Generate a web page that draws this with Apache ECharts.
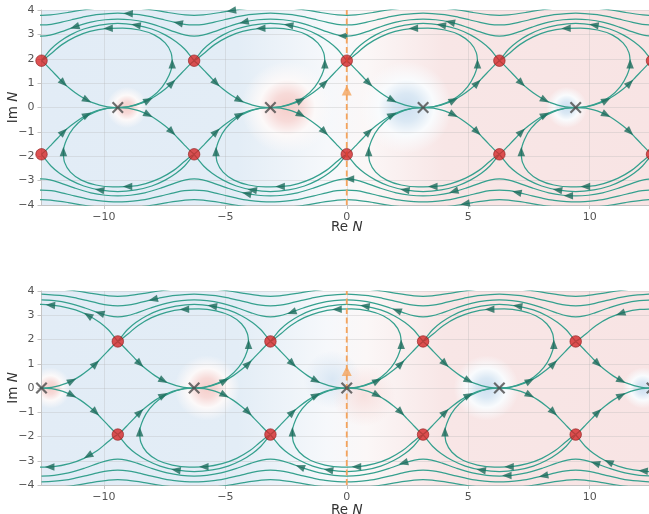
<!DOCTYPE html>
<html><head><meta charset="utf-8">
<script src="https://cdn.jsdelivr.net/npm/echarts@6/dist/echarts.min.js"></script>
<style>html,body{margin:0;padding:0;background:#fff;overflow:hidden}#c{width:649px;height:514px}</style>
</head><body><div id="c"></div>
<script>
// ---------------- values ----------------
const xTicks = [-10, -5, 0, 5, 10];
const xMin = -12.566, xMax = 12.566;
const yMin = -4, yMax = 4;

// singular points (crosses) and saddle points (red dots)
const topPoles = [-9.425, -3.142, 3.142, 9.425];
const topSaddles = [[-12.566,1.92],[-6.283,1.92],[0,1.92],[6.283,1.92],[12.566,1.92],
                    [-12.566,-1.92],[-6.283,-1.92],[0,-1.92],[6.283,-1.92],[12.566,-1.92]];
const botPoles = [-12.566, -6.283, 0, 6.283, 12.566];
const botSaddles = [[-9.425,1.92],[-3.142,1.92],[3.142,1.92],[9.425,1.92],
                    [-9.425,-1.92],[-3.142,-1.92],[3.142,-1.92],[9.425,-1.92]];
const startPoint = [[0, 0.7]];
const dashedLine = [[0, -4], [0, 4]];

// flow-line shapes, measured relative to a cross (u = Re N - pole, Im N)
const sepHalf = [[0,0],[0.42,0.03],[0.74,0.1],[1.04,0.2],[1.26,0.3],[1.6,0.5],[1.94,0.75],[2.23,1.0],[2.47,1.25],[2.71,1.5],[2.95,1.75],[3.142,1.92]];
const loopUpper = [[0,0],[0.48,0.05],[0.97,0.2],[1.42,0.45],[1.83,0.85],[2.1,1.3],[2.24,1.8],[2.19,2.25],[1.95,2.65],[1.5,2.98],[0.9,3.18],[0.2,3.26],[-0.5,3.24],[-1.15,3.12],[-1.75,2.9],[-2.3,2.58],[-2.7,2.25],[-2.98,2.02],[-3.12,1.94]];
const sepHigh = [[-3.142,1.92],[-3.0,2.1],[-2.75,2.4],[-2.4,2.7],[-1.95,2.98],[-1.4,3.22],[-0.75,3.38],[0,3.45],[0.75,3.38],[1.4,3.22],[1.95,2.98],[2.4,2.7],[2.75,2.4],[3.0,2.1],[3.142,1.92]];
// wavy flow lines near the top/bottom, one period measured around a saddle column
const wave1 = [[-3.142,3.63],[-2.62,3.6],[-2.03,3.5],[-1.35,3.3],[-0.79,3.1],[-0.35,2.97],[0,2.93],[0.35,2.97],[0.79,3.1],[1.35,3.3],[2.03,3.5],[2.62,3.6],[3.142,3.63]];
const wave2 = [[-3.142,3.875],[-2.2,3.8],[-1.67,3.7],[-1.24,3.6],[-0.83,3.5],[-0.4,3.415],[0,3.39],[0.4,3.415],[0.83,3.5],[1.24,3.6],[1.67,3.7],[2.2,3.8],[3.142,3.875]];
const wave3 = [[-3.142,4.14],[-2.3,4.08],[-1.69,4.0],[-1.1,3.9],[-0.37,3.8],[0,3.78],[0.37,3.8],[1.1,3.9],[1.69,4.0],[2.3,4.08],[3.142,4.14]];
const topWaveColumns = [-12.566, -6.283, 0, 6.283, 12.566];
const botWaveColumns = [-9.425, -3.142, 3.142, 9.425];

// which flow lines are drawn around each cross
const fullParts = ['sepUp','sepDown','loopUp','loopDown','highUp','highDown'];
const topPoleParts = [fullParts, fullParts, fullParts, fullParts];
const botPoleParts = [['sepUp','sepDown','highUp','loopDown'], fullParts, fullParts, fullParts, ['sepUp','sepDown','loopUp','highDown']];

// arrow heads around each interior cross: [u, Im N, direction in degrees]
const arrowAroundPole = [[-2.23,1.0,-44],[-1.26,0.3,-28],[1.26,0.3,28],[2.23,1.0,44],
  [-2.23,-1.0,44],[-1.26,-0.3,28],[1.26,-0.3,-28],[2.23,-1.0,-44],
  [2.24,1.8,90],[-0.4,3.245,181],[-2.24,-1.8,90],[0.4,-3.245,180],[0.75,3.38,171],[-0.75,-3.38,171]];
const topArrowPoles = [-9.425, -3.142, 3.142, 9.425];
const botArrowPoles = [-6.283, 0, 6.283];
// other arrow heads: [Re N, Im N, direction in degrees]
const topExtraArrows = [[-4.75,3.97,188],[-9.0,3.86,177],[-6.94,3.47,168],[-11.2,3.3,198],[-4.23,3.5,193],[-0.17,2.94,178],[4.26,3.5,167],
  [0.11,-2.93,180],[-4.12,-3.53,167],[4.4,-3.44,196],[7.0,-3.48,167],[4.87,-3.95,190],[9.12,-3.62,180]];
const botExtraArrows = [[-7.97,3.65,193],[-10.17,3.09,163],[-2.27,3.12,199],[2.06,3.2,160],
  [-1.92,-3.25,160],[2.33,-3.09,197],[6.59,-3.61,180],[8.1,-3.62,192],[10.23,-3.1,163],
  [-11.306,0.3,28],[-10.336,1.0,44],[-11.306,-0.3,-28],[-10.336,-1.0,-44],[-10.65,3.0,148],[-12.2,3.42,175],[-10.65,-2.8,210],[-12.23,-3.26,180],
  [10.336,1.0,-44],[11.306,0.3,-28],[10.336,-1.0,44],[11.306,-0.3,28],[11.27,3.07,200],[10.78,-3.05,156],[12.2,-3.42,176]];

// background shading: blobs around the crosses [Re N, Im N, radius, kind]
const topBlobs = [[-9.05,0,0.85,1],[-2.45,0,1.9,1],[2.45,0,1.9,-1],[9.05,0,0.85,-1]];
const botBlobs = [[-12.2,0,0.85,1],[-5.75,0,1.35,1],[-0.6,0.35,1.2,-2],[0.7,-0.3,1.3,2],[5.75,0,1.35,-1],[12.2,0,0.85,-1]];
const bgStopX = [-12.566, -4.5, -0.8, 0.8, 4.0, 12.566];
const bgStopColor = ['#e2ecf6', '#e3edf6', '#f6f8fb', '#fbf7f7', '#f8e6e6', '#f8e4e4'];

// ---------------- styling ----------------
const LINE = '#35a08e', ARROW = '#1c6b5b', ORANGE = '#f4a45c';
const FONT = 'DejaVu Sans';
const minus = v => (v < 0 ? '\u2212' + Math.abs(v) : '' + v);

const series = [];
function addLine(g, data) {
  series.push({type:'line', xAxisIndex:g, yAxisIndex:g, data, showSymbol:false, symbol:'none',
    smooth:0.35, clip:true, silent:true, z:2, lineStyle:{color:LINE, width:1.25}});
}
const sepArc = sepHalf.slice(1).reverse().map(p => [-p[0], p[1]]).concat(sepHalf);
function poleLines(g, poles, parts) {
  poles.forEach((x0, i) => {
    parts[i].forEach(part => {
      if (part === 'sepUp') addLine(g, sepArc.map(p => [x0 + p[0], p[1]]));
      if (part === 'sepDown') addLine(g, sepArc.map(p => [x0 + p[0], -p[1]]));
      if (part === 'loopUp') addLine(g, loopUpper.map(p => [x0 + p[0], p[1]]));
      if (part === 'loopDown') addLine(g, loopUpper.map(p => [x0 - p[0], -p[1]]));
      if (part === 'highUp') addLine(g, sepHigh.map(p => [x0 + p[0], p[1]]));
      if (part === 'highDown') addLine(g, sepHigh.map(p => [x0 + p[0], -p[1]]));
    });
  });
}
function waveLine(tpl, cols, sy) {
  const out = [];
  cols.forEach((c, i) => tpl.forEach((p, j) => { if (i > 0 && j === 0) return; out.push([c + p[0], sy * p[1]]); }));
  return out;
}
function addBackground(g, blobs) {
  const stops = bgStopX.map((x, k) => ({offset:(x - xMin) / (xMax - xMin), color:bgStopColor[k]}));
  series.push({type:'custom', xAxisIndex:g, yAxisIndex:g, z:-5, silent:true, clip:true, data:[[xMin, xMax]],
    renderItem:(params, api) => {
      const a = api.coord([xMin, yMax]), b = api.coord([xMax, yMin]);
      return {type:'rect', shape:{x:a[0], y:a[1], width:b[0]-a[0], height:b[1]-a[1]},
        style:{fill:new echarts.graphic.LinearGradient(0, 0, 1, 0, stops)}};
    }});
  series.push({type:'custom', xAxisIndex:g, yAxisIndex:g, z:-4, silent:true, clip:true, data:blobs,
    renderItem:(params, api) => {
      const c = api.coord([api.value(0), api.value(1)]);
      const s = api.size([api.value(2), api.value(2)]);
      const k = api.value(3);
      let st;
      if (k === 1) st = [[0,'rgba(245,206,202,1)'],[0.3,'rgba(247,218,216,1)'],[0.6,'rgba(252,249,249,1)'],[1,'rgba(252,249,249,0)']];
      else if (k === -1) st = [[0,'rgba(205,223,240,1)'],[0.3,'rgba(218,232,244,1)'],[0.6,'rgba(249,251,253,1)'],[1,'rgba(249,251,253,0)']];
      else if (k === 2) st = [[0,'rgba(247,220,218,0.85)'],[1,'rgba(247,220,218,0)']];
      else st = [[0,'rgba(214,229,243,0.9)'],[1,'rgba(214,229,243,0)']];
      return {type:'circle', shape:{cx:c[0], cy:c[1], r:(s[0] + s[1]) / 2},
        style:{fill:new echarts.graphic.RadialGradient(0.5, 0.5, 0.5, st.map(q => ({offset:q[0], color:q[1]})))}};
    }});
}
function addArrows(g, data) {
  series.push({type:'scatter', xAxisIndex:g, yAxisIndex:g, data, symbol:'triangle', symbolSize:[7.5,9.5],
    symbolRotate:v => v[2] - 90, itemStyle:{color:ARROW}, z:3, silent:true, clip:true});
}
function addMarkers(g, poles, saddles) {
  series.push({type:'line', xAxisIndex:g, yAxisIndex:g, data:dashedLine, showSymbol:false, symbol:'none', z:4, silent:true,
    lineStyle:{color:ORANGE, width:1.8, type:[6,3.5]}});
  series.push({type:'scatter', xAxisIndex:g, yAxisIndex:g, data:startPoint, symbol:'triangle', symbolSize:[10,10],
    itemStyle:{color:ORANGE}, z:5, silent:true});
  series.push({type:'scatter', xAxisIndex:g, yAxisIndex:g, data:saddles, symbol:'circle', symbolSize:11.5, clip:false,
    itemStyle:{color:'#d62728', borderColor:'#8a1a1a', borderWidth:0.8}, z:6, silent:true});
  series.push({type:'scatter', xAxisIndex:g, yAxisIndex:g, data:poles.map(x => [x, 0]), clip:false,
    symbol:'path://M0,2.6 L2.6,0 L10,7.4 L17.4,0 L20,2.6 L12.6,10 L20,17.4 L17.4,20 L10,12.6 L2.6,20 L0,17.4 L7.4,10 Z',
    symbolSize:12, itemStyle:{color:'#4a4a4a'}, z:6, silent:true});
}

// top panel
addBackground(0, topBlobs);
poleLines(0, topPoles, topPoleParts);
[wave1, wave2, wave3].forEach(w => { addLine(0, waveLine(w, topWaveColumns, 1)); addLine(0, waveLine(w, topWaveColumns, -1)); });
addArrows(0, topArrowPoles.flatMap(x0 => arrowAroundPole.map(a => [x0 + a[0], a[1], a[2]])).concat(topExtraArrows));
addMarkers(0, topPoles, topSaddles);
// bottom panel
addBackground(1, botBlobs);
poleLines(1, botPoles, botPoleParts);
[wave1, wave2, wave3].forEach(w => { addLine(1, waveLine(w, botWaveColumns, 1)); addLine(1, waveLine(w, botWaveColumns, -1)); });
addArrows(1, botArrowPoles.flatMap(x0 => arrowAroundPole.map(a => [x0 + a[0], a[1], a[2]])).concat(botExtraArrows));
addMarkers(1, botPoles, botSaddles);

const nameStyle = {fontSize:13.5, color:'#333', fontFamily:FONT, rich:{i:{fontStyle:'italic', fontSize:13.5, color:'#333', fontFamily:FONT}}};
const axisGray = '#c4c4c4', gridCol = 'rgba(180,180,180,0.3)';
const xNameGaps = [15, 18];
const option = {
  animation:false,
  backgroundColor:'#ffffff',
  textStyle:{fontFamily:FONT},
  grid:[
    {left:41.5, top:10, width:610.5, height:195, containLabel:false, outerBoundsMode:'none'},
    {left:41.5, top:291, width:610.5, height:194, containLabel:false, outerBoundsMode:'none'}
  ],
  xAxis:[0,1].map(i => ({type:'value', gridIndex:i, min:xMin, max:xMax, z:1,
    axisLine:{show:true, onZero:false, lineStyle:{color:axisGray, width:1}},
    axisTick:{show:true, customValues:xTicks, length:4, lineStyle:{color:axisGray}},
    axisLabel:{show:true, customValues:xTicks, formatter:minus, color:'#555', fontSize:11, margin:7, fontFamily:FONT},
    splitLine:{show:true, lineStyle:{color:gridCol, width:1}},
    name:'Re {i|N}', nameLocation:'middle', nameGap:xNameGaps[i], nameMoveOverlap:false, nameTextStyle:nameStyle})),
  yAxis:[0,1].map(i => ({type:'value', gridIndex:i, min:yMin, max:yMax, interval:1, z:1,
    axisLine:{show:true, onZero:false, lineStyle:{color:axisGray, width:1}},
    axisTick:{show:true, length:4, lineStyle:{color:axisGray}},
    axisLabel:{show:true, formatter:minus, color:'#555', fontSize:11, margin:7, fontFamily:FONT},
    splitLine:{show:true, lineStyle:{color:gridCol, width:1}},
    name:'Im {i|N}', nameLocation:'middle', nameRotate:90, nameGap:21, nameMoveOverlap:false, nameTextStyle:nameStyle})),
  series
};
const chart = echarts.init(document.getElementById('c'), null, {renderer:'canvas', width:649, height:514});
chart.setOption(option);
</script></body></html>
